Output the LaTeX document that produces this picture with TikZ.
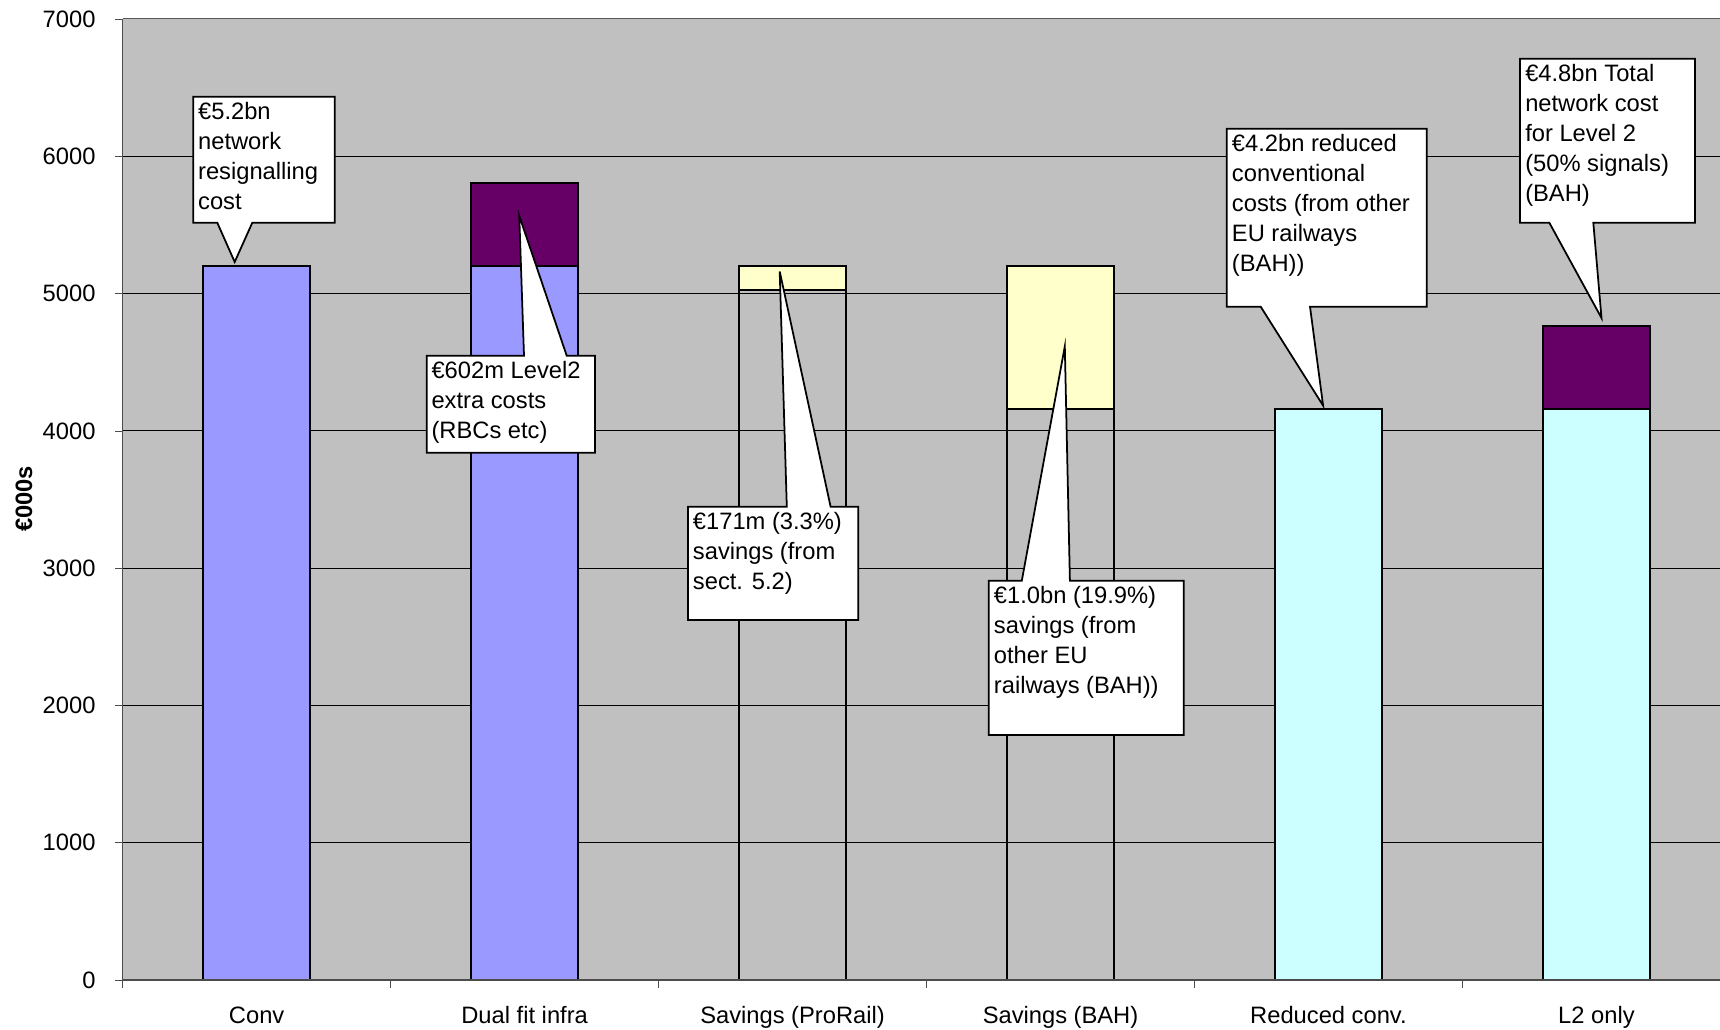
\documentclass[tikz,border=0pt]{standalone}
\usepackage{fontspec}
\setmainfont{Liberation Sans}
\usetikzlibrary{positioning}

\definecolor{plotgray}{RGB}{192,192,192}
\definecolor{convblue}{RGB}{153,153,255}
\definecolor{lvlpurple}{RGB}{102,0,102}
\definecolor{saveyellow}{RGB}{255,255,204}
\definecolor{redcyan}{RGB}{204,255,255}

\begin{document}
\begin{tikzpicture}[x=0.02cm,y=-0.02cm]
\tikzset{lbl/.style = {font=\fontsize{13.5}{17}\selectfont}}
\tikzset{bar/.style = {draw=black, line width=1.1pt}}
\tikzset{grid/.style = {black, line width=0.55pt}}
\tikzset{callout/.style = {draw=black, fill=white, line width=1pt, line join=miter}}
\tikzset{calltext/.style = {lbl, anchor=north west, inner sep=0pt, align=left}}

\useasboundingbox (0,0) rectangle (1720,1029);
\fill[plotgray] (122.7,18.2) rectangle (1730,980);
\draw[black!65, line width=0.8pt] (122.7,18.2) -- (1730,18.2);

% chart in data units
\begin{scope}[shift={(122.7,980)}, x=5.36cm, y=0.0027486cm]
\foreach \v in {1000,2000,...,6000}
  \draw[grid] (0,\v) -- (6,\v);

% bars
\draw[bar, fill=convblue] (0.3,0) rectangle (0.7,5200);
\draw[bar, fill=convblue] (1.3,0) rectangle (1.7,5200);
\draw[bar, fill=lvlpurple] (1.3,5200) rectangle (1.7,5802);
\draw[bar] (2.3,0) rectangle (2.7,5029);
\draw[bar, fill=saveyellow] (2.3,5029) rectangle (2.7,5200);
\draw[bar] (3.3,0) rectangle (3.7,4160);
\draw[bar, fill=saveyellow] (3.3,4160) rectangle (3.7,5200);
\draw[bar, fill=redcyan] (4.3,0) rectangle (4.7,4160);
\draw[bar, fill=redcyan] (5.3,0) rectangle (5.7,4160);
\draw[bar, fill=lvlpurple] (5.3,4160) rectangle (5.7,4762);

% axes
\draw[black!70, line width=0.8pt] (0,0) -- (0,7000);
\draw[black!70, line width=0.8pt] (0,0) -- (6,0);
\foreach \v in {0,1000,...,7000} {
  \draw[black!70] (0,\v) -- ([xshift=-0.154cm]0,\v);
  \node[lbl, anchor=east] (y\v) at ([xshift=-0.42cm]0,\v) {\v};
}
\foreach \i in {0,...,6}
  \draw[black!70] (\i,0) -- ([yshift=-0.15cm]\i,0);
\foreach \name [count=\i from 0] in {{Conv},{Dual fit infra},{Savings (ProRail)},{Savings (BAH)},{Reduced conv.},{L2 only}}
  \node[lbl, anchor=base] (cat\i) at ([yshift=-0.86cm]\i+0.5,0) {\name};

% callout tips
\coordinate (tipConv) at (0.418,5230);
\coordinate (tipDual) at (1.48,5566);
\coordinate (tipPro) at (2.452,5161);
\coordinate (tipBah) at (3.516,4615);
\coordinate (tipRed) at (4.48,4184);
\coordinate (tipL2) at (5.519,4822);
\end{scope}

\node[font=\fontsize{13.5}{17}\selectfont\bfseries, rotate=90] (ylab) at (24,499) {€000s};

% callouts
\draw[callout] (193.3,96.7) -- (334.7,96.7) -- (334.7,222.7) -- (252.3,222.7)
  -- (tipConv) -- (217.3,222.7) -- (193.3,222.7) -- cycle;
\node[calltext] (lblConv) at (197.8,98.7) {\strut€5.2bn\\network\\resignalling\\cost};

\draw[callout] (426.7,355.7) -- (524,355.7) -- (tipDual) -- (566.7,355.7)
  -- (595,355.7) -- (595,452.7) -- (426.7,452.7) -- cycle;
\node[calltext] (lblDual) at (431.2,357.7) {\strut€602m Level2\\extra costs\\(RBCs etc)};

\draw[callout] (687.9,506.7) -- (786.8,506.7) -- (tipPro) -- (830.6,506.7)
  -- (858.3,506.7) -- (858.3,620) -- (687.9,620) -- cycle;
\node[calltext] (lblPro) at (692.6,508.7) {\strut€171m (3.3\%)\\savings (from\\sect. 5.2)};

\draw[callout] (988.8,580.7) -- (1021.8,580.7) -- (tipBah) -- (1069.9,580.7)
  -- (1183.8,580.7) -- (1183.8,735) -- (988.8,735) -- cycle;
\node[calltext] (lblBah) at (993.6,582.7) {\strut€1.0bn (19.9\%)\\savings (from\\other EU\\railways (BAH))};

\draw[callout] (1226.7,128.7) -- (1426.7,128.7) -- (1426.7,306.7) -- (1310,306.7)
  -- (tipRed) -- (1260.7,306.7) -- (1226.7,306.7) -- cycle;
\node[calltext] (lblRed) at (1231.6,130.7) {\strut€4.2bn reduced\\conventional\\costs (from other\\EU railways\\(BAH))};

\draw[callout] (1520,58.7) -- (1695,58.7) -- (1695,222.7) -- (1593.3,222.7)
  -- (tipL2) -- (1549.3,222.7) -- (1520,222.7) -- cycle;
\node[calltext] (lblL2) at (1524.9,60.7) {\strut€4.8bn Total\\network cost\\for Level 2\\(50\% signals)\\(BAH)};
\end{tikzpicture}
\end{document}
